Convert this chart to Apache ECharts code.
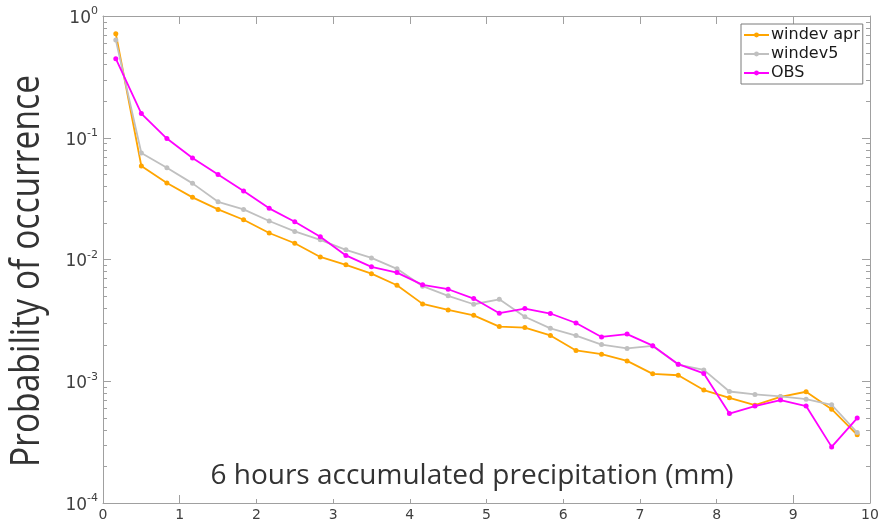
<!DOCTYPE html>
<html>
<head>
<meta charset="utf-8">
<script src="https://cdn.jsdelivr.net/npm/echarts@6/dist/echarts.min.js"></script>
<style>
  html, body { margin: 0; padding: 0; background: #fff; }
  #chart { width: 882px; height: 525px; }
</style>
</head>
<body>
<div id="chart"></div>
<script>
// Bin centres of the 6-hour accumulated precipitation classes (mm)
const binCenters = [0.167, 0.5, 0.833, 1.167, 1.5, 1.833, 2.167, 2.5, 2.833, 3.167,
  3.5, 3.833, 4.167, 4.5, 4.833, 5.167, 5.5, 5.833, 6.167, 6.5,
  6.833, 7.167, 7.5, 7.833, 8.167, 8.5, 8.833, 9.167, 9.5, 9.833];

// Probability of occurrence per bin
const windevApr = [0.715, 0.0586, 0.0425, 0.0324, 0.0258, 0.0212, 0.0165, 0.0136, 0.0105, 0.00904,
  0.00765, 0.00615, 0.00432, 0.00385, 0.00348, 0.00281, 0.00276, 0.00238, 0.00179, 0.00167,
  0.00147, 0.00115, 0.00112, 0.000846, 0.000731, 0.000636, 0.000745, 0.000820, 0.000590, 0.000363];

const windev5 = [0.634, 0.075, 0.0568, 0.0422, 0.0298, 0.0258, 0.0207, 0.0170, 0.0145, 0.0120,
  0.0103, 0.00838, 0.00604, 0.00503, 0.00429, 0.00471, 0.00339, 0.00272, 0.00237, 0.00200,
  0.00186, 0.00195, 0.00137, 0.00124, 0.000824, 0.000779, 0.000750, 0.000713, 0.000641, 0.000379];

const obs = [0.446, 0.158, 0.0985, 0.0682, 0.0498, 0.0365, 0.0263, 0.0204, 0.0154, 0.0108,
  0.0087, 0.00781, 0.00619, 0.00570, 0.00478, 0.00362, 0.00395, 0.00360, 0.00301, 0.00231,
  0.00244, 0.00196, 0.00138, 0.00116, 0.000543, 0.000625, 0.000700, 0.000625, 0.000289, 0.000498];

const seriesNames = ['windev apr', 'windev5', 'OBS'];
const seriesColors = ['#ffa500', '#c0c0c0', '#ff00ff'];

// Decade exponents shown on the log axis
const yDecades = [-4, -3, -2, -1, 0];

const X_MIN = 0, X_MAX = 10;
const AXIS_COLOR = '#a0a0a0';
const TEXT_COLOR = '#404040';

// Minor tick values 2..9 x 10^e inside each decade
const minorTickValues = [];
for (let i = 0; i < yDecades.length - 1; i++) {
  for (let k = 2; k <= 9; k++) {
    minorTickValues.push([X_MIN, k * Math.pow(10, yDecades[i])]);
  }
}

const pairs = ys => binCenters.map((x, i) => [x, ys[i]]);
const lineSeries = [windevApr, windev5, obs].map((ys, i) => ({
  name: seriesNames[i],
  type: 'line',
  xAxisIndex: 0,
  yAxisIndex: 0,
  data: pairs(ys),
  symbol: 'circle',
  symbolSize: 5,
  showSymbol: true,
  color: seriesColors[i],
  lineStyle: { width: 1.8, color: seriesColors[i] },
  itemStyle: { color: seriesColors[i] },
  z: 3 + i,
  animation: false
}));

const xAxisBase = {
  type: 'value',
  min: X_MIN,
  max: X_MAX,
  interval: 1,
  splitLine: { show: false },
  axisLine: { show: true, onZero: false, lineStyle: { color: AXIS_COLOR, width: 1 } },
  axisTick: { show: true, inside: true, length: 8, lineStyle: { color: AXIS_COLOR } }
};

const yAxisBase = {
  type: 'log',
  logBase: 10,
  min: 1e-4,
  max: 1,
  splitNumber: 4,
  splitLine: { show: false },
  axisLine: { show: true, onZero: false, lineStyle: { color: AXIS_COLOR, width: 1 } },
  axisTick: { show: true, inside: true, length: 8, lineStyle: { color: AXIS_COLOR } }
};

const titleShadow = { shadowBlur: 2, shadowColor: 'rgba(60,60,60,0.5)' };

const chart = echarts.init(document.getElementById('chart'), null, { renderer: 'canvas' });

chart.setOption({
  animation: false,
  backgroundColor: '#ffffff',
  grid: { left: 103, right: 12, top: 16, bottom: 22, containLabel: false },
  xAxis: [
    Object.assign({}, xAxisBase, {
      position: 'bottom',
      axisLabel: { color: TEXT_COLOR, fontSize: 14, fontFamily: 'DejaVu Sans', margin: 5 }
    }),
    Object.assign({}, xAxisBase, { position: 'top', axisLabel: { show: false } })
  ],
  yAxis: [
    Object.assign({}, yAxisBase, {
      position: 'left',
      axisLabel: {
        margin: 5,
        formatter: v => '{b|10}{s|' + Math.round(Math.log10(v)) + '}',
        rich: {
          b: { fontSize: 17, fontFamily: 'DejaVu Sans', color: TEXT_COLOR, lineHeight: 22, verticalAlign: 'bottom' },
          s: { fontSize: 11, fontFamily: 'DejaVu Sans', color: TEXT_COLOR, lineHeight: 22, verticalAlign: 'top', padding: [1, 0, 0, 0] }
        }
      }
    }),
    Object.assign({}, yAxisBase, { position: 'right', axisLabel: { show: false } })
  ],
  legend: {
    data: seriesNames,
    orient: 'vertical',
    left: 741,
    top: 24,
    itemWidth: 25,
    itemHeight: 6,
    itemGap: 3,
    padding: [3, 3, 3, 2],
    backgroundColor: '#ffffff',
    borderColor: '#7a7a7a',
    borderWidth: 1,
    borderRadius: 0,
    textStyle: { fontSize: 16, fontFamily: 'DejaVu Sans', color: '#1a1a1a', padding: [0, 0, 0, -3] }
  },
  graphic: [
    {
      type: 'rect',
      z: 20,
      silent: true,
      shape: { x: 200, y: 452, width: 545, height: 47 },
      style: { fill: '#ffffff' }
    },
    {
      type: 'text',
      z: 21,
      silent: true,
      x: 472,
      y: 476,
      style: Object.assign({
        text: '6 hours accumulated precipitation (mm)',
        fontSize: 28,
        fontFamily: 'Open Sans',
        fill: '#333333',
        align: 'center',
        verticalAlign: 'middle'
      }, titleShadow)
    },
    {
      type: 'text',
      z: 21,
      silent: true,
      x: 28,
      y: 271,
      rotation: Math.PI / 2,
      scaleX: 0.84,
      style: Object.assign({
        text: 'Probability of occurrence',
        fontSize: 40,
        fontFamily: 'Open Sans',
        fill: '#333333',
        align: 'center',
        verticalAlign: 'middle'
      }, titleShadow)
    }
  ],
  series: [
    {
      type: 'custom',
      coordinateSystem: 'cartesian2d',
      xAxisIndex: 0,
      yAxisIndex: 0,
      silent: true,
      clip: false,
      z: 1,
      encode: { x: 0, y: 1 },
      data: minorTickValues,
      renderItem: (params, api) => {
        const v = api.value(1);
        const left = api.coord([X_MIN, v]);
        const right = api.coord([X_MAX, v]);
        const y = Math.round(left[1]) + 0.5;
        const st = { stroke: AXIS_COLOR, lineWidth: 1 };
        return {
          type: 'group',
          children: [
            { type: 'line', shape: { x1: left[0], y1: y, x2: left[0] + 4, y2: y }, style: st },
            { type: 'line', shape: { x1: right[0], y1: y, x2: right[0] - 4, y2: y }, style: st }
          ]
        };
      }
    }
  ].concat(lineSeries)
});
</script>
</body>
</html>
